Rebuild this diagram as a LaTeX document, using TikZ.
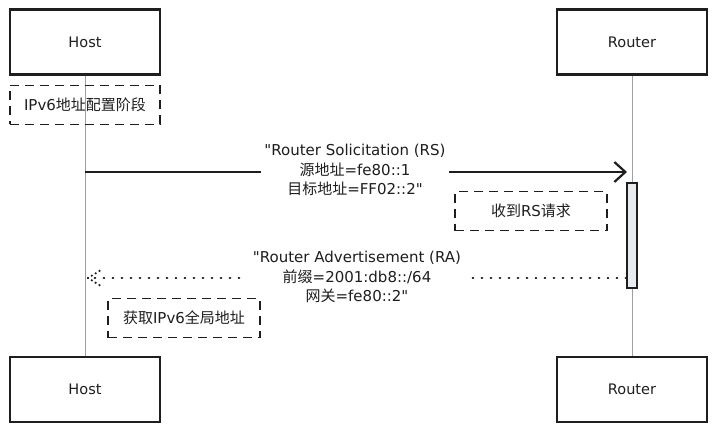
\documentclass[tikz,border=0pt]{standalone}
\usepackage{fontspec}
\setmainfont{DejaVu Sans}[Ligatures=TeXOff]
\newfontfamily\cjk{Noto Sans CJK SC}
\usetikzlibrary{arrows.meta}
\definecolor{ink}{HTML}{1E1E1E}
\definecolor{life}{HTML}{A0A0A0}
\definecolor{actfill}{HTML}{E9ECEF}
\tikzset{
  actor/.style={draw=ink, line width=2.2pt, fill=white, minimum width=150pt, minimum height=65pt, inner sep=0pt, font=\fontsize{14.5}{16}\selectfont, text=ink},
  notebox/.style={draw=ink, line width=1.8pt, dash pattern=on 9pt off 6pt, minimum height=39pt, inner sep=0pt, font=\fontsize{15}{16}\selectfont, text=ink},
  lifeline/.style={draw=life, line width=0.9pt},
  msglabel/.style={fill=white, align=center, inner xsep=3pt, inner ysep=0pt, font=\fontsize{15}{19.5}\selectfont, text=ink},
  solidmsg/.style={draw=ink, line width=2.4pt, -{Straight Barb[length=11pt,width=20pt,line width=2.2pt]}},
  dottedmsg/.style={draw=ink, line width=2.4pt, dash pattern=on 0.5pt off 8.5pt, line cap=round},
}
\begin{document}
\begin{tikzpicture}[x=1pt, y=-1pt]
  \useasboundingbox (0,0) rectangle (717,433);

  % participant heads and feet
  \node[actor] (hostTop) at (85,42) {Host};
  \node[actor] (routerTop) at (632,42) {Router};
  \node[actor] (hostBot) at (85,389.5) {Host};
  \node[actor] (routerBot) at (632,389.5) {Router};

  % lifelines
  \draw[lifeline] (hostTop.south) -- (hostBot.north);
  \draw[lifeline] (routerTop.south) -- (routerBot.north);

  % activation of the router
  \node[draw=ink, line width=1.6pt, fill=actfill, minimum width=10pt, minimum height=105pt, inner sep=0pt] (act) at (632,235.5) {};

  % phase note
  \node[notebox, minimum width=150pt] (phase) at (85,105) {IPv6{\cjk 地址配置阶段}};

  % Router Solicitation
  \coordinate (rsFrom) at (85,172);
  \coordinate (rsTo) at (627,172);
  \draw[solidmsg] (rsFrom) -- (rsTo);
  \node[msglabel] (rsLabel) at (355,170) {"Router Solicitation (RS)\\{\cjk 源地址}=fe80::1\\{\cjk 目标地址}=FF02::2"};

  % note at the router
  \node[notebox, minimum width=152pt] (recv) at (531,211) {{\cjk 收到}RS{\cjk 请求}};

  % Router Advertisement
  \coordinate (raFrom) at (act.west |- 0,278);
  \coordinate (raTo) at (88,278);
  \draw[dottedmsg] (raFrom) -- (raTo);
  \draw[dottedmsg, dash pattern=on 0pt off 4.5pt] (raTo) -- ++(13,-8);
  \draw[dottedmsg, dash pattern=on 0pt off 4.5pt] (raTo) -- ++(13,8);
  \node[msglabel, inner xsep=10pt] (raLabel) at (357,277) {"Router Advertisement (RA)\\{\cjk 前缀}=2001:db8::/64\\{\cjk 网关}=fe80::2"};

  % note at the host
  \node[notebox, minimum width=152pt] (got) at (184,318) {{\cjk 获取}IPv6{\cjk 全局地址}};
\end{tikzpicture}
\end{document}
